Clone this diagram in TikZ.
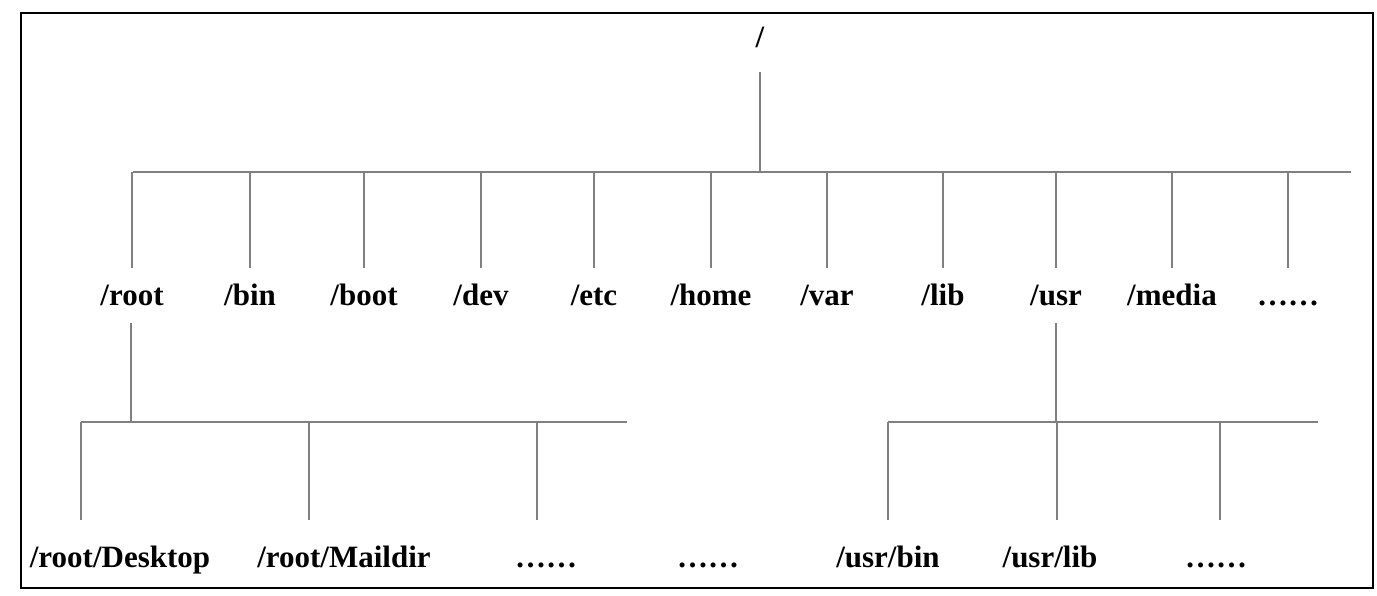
\documentclass[tikz,border=0pt]{standalone}
\usepackage{fontspec}
\setmainfont{Liberation Serif}
\usetikzlibrary{positioning}
\definecolor{busgray}{RGB}{128,128,128}
\tikzset{
  dirframe/.style={draw=black, line width=0.8pt},
  dirbus/.style  ={busgray, line width=0.6pt},
  dirname/.style ={anchor=base, inner sep=0pt,
                   font=\bfseries\fontsize{15.5}{18}\selectfont},
}

\begin{document}
\begin{tikzpicture}[x=0.5pt, y=-0.5pt]
  \useasboundingbox (0,0) rectangle (1377,595);
  \draw[dirframe] (21,13) rectangle (1373,588);

  % root of the tree
  \node[dirname] (top) at (760,47) {/};
  \coordinate (topfoot) at (760,72);
  \coordinate (bus1m) at (760,172);
  \coordinate (bus1l) at (133,172);
  \coordinate (bus1r) at (1351,172);
  \draw[dirbus] (topfoot) -- (bus1m);
  \draw[dirbus] (bus1l) -- (bus1r);

  % first level
  \foreach \n/\t/\x in {root/{/root}/132,bin/{/bin}/250,boot/{/boot}/364,
                        dev/{/dev}/481,etc/{/etc}/594,home/{/home}/711,
                        var/{/var}/827,lib/{/lib}/943,usr/{/usr}/1056,
                        media/{/media}/1172,more/{……}/1288} {
    \coordinate (b\n) at (\x,172);
    \coordinate (f\n) at (\x,268);
    \node[dirname] (d\n) at (\x,305) {\t};
    \draw[dirbus] (b\n) -- (f\n);
  }

  % below /root
  \coordinate (rootfoot) at (131,323);
  \coordinate (bus2m) at (131,422);
  \coordinate (bus2l) at (81,422);
  \coordinate (bus2r) at (627,422);
  \draw[dirbus] (rootfoot) -- (bus2m);
  \draw[dirbus] (bus2l) -- (bus2r);
  \foreach \n/\t/\x/\lx in {desk/{/root/Desktop}/81/120,
                            mail/{/root/Maildir}/309/344,
                            rmore/{……}/537/546} {
    \coordinate (b\n) at (\x,422);
    \coordinate (f\n) at (\x,520);
    \node[dirname] (d\n) at (\lx,567) {\t};
    \draw[dirbus] (b\n) -- (f\n);
  }
  \node[dirname] (gap) at (708,567) {……};

  % below /usr
  \coordinate (usrfoot) at (1056,323);
  \coordinate (bus3m) at (1056,422);
  \coordinate (bus3l) at (888,422);
  \coordinate (bus3r) at (1318,422);
  \draw[dirbus] (usrfoot) -- (bus3m);
  \draw[dirbus] (bus3l) -- (bus3r);
  \foreach \n/\t/\x/\lx in {ubin/{/usr/bin}/888/888,
                            ulib/{/usr/lib}/1057/1050,
                            umore/{……}/1220/1216} {
    \coordinate (b\n) at (\x,422);
    \coordinate (f\n) at (\x,520);
    \node[dirname] (d\n) at (\lx,567) {\t};
    \draw[dirbus] (b\n) -- (f\n);
  }
\end{tikzpicture}
\end{document}
